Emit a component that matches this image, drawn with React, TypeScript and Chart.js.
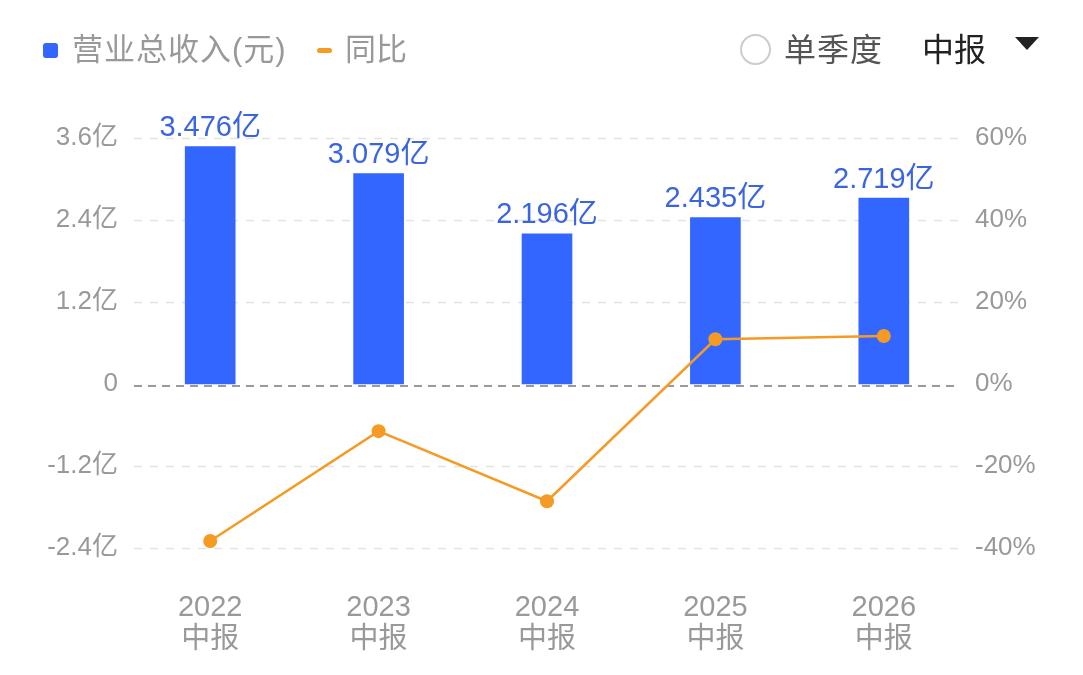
import React, { useEffect, useRef } from 'react';
import { Chart, registerables } from 'chart.js';

Chart.register(...registerables);

const categories = ['2022', '2023', '2024', '2025', '2026'];
const periodLabel = '中报';
const revenue = [3.476, 3.079, 2.196, 2.435, 2.719]; // 亿元
const revenueLabels = ['3.476亿', '3.079亿', '2.196亿', '2.435亿', '2.719亿'];
const yoy = [-38.3, -11.5, -28.6, 10.9, 11.7]; // %

const FONT = '"Liberation Sans", "Noto Sans CJK SC", sans-serif';
const BLUE = '#3366ff';
const ORANGE = '#f59a23';
const GRAY = '#999999';

const gridPlugin = {
  id: 'dashGrid',
  beforeDatasetsDraw(chart: any) {
    const { ctx, chartArea, scales } = chart;
    const y = scales.y;
    ctx.save();
    y.ticks.forEach((t: any) => {
      const py = Math.round(y.getPixelForValue(t.value)) + 0.5;
      const zero = Math.abs(t.value) < 1e-9;
      ctx.beginPath();
      ctx.setLineDash(zero ? [8, 6] : [8, 8]);
      ctx.strokeStyle = zero ? '#9a9a9a' : '#e2e2e2';
      ctx.lineWidth = zero ? 2 : 1.5;
      const yy = zero ? py + 1.5 : py;
      ctx.moveTo(chartArea.left + 8, yy);
      ctx.lineTo(chartArea.right - 8, yy);
      ctx.stroke();
    });
    ctx.restore();
  },
};

const barLabelPlugin = {
  id: 'barLabels',
  afterDatasetsDraw(chart: any) {
    const { ctx } = chart;
    const meta = chart.getDatasetMeta(1);
    ctx.save();
    ctx.font = `29px ${FONT}`;
    ctx.fillStyle = '#3a64e0';
    ctx.textAlign = 'center';
    ctx.textBaseline = 'bottom';
    meta.data.forEach((bar: any, i: number) => {
      ctx.fillText(revenueLabels[i], bar.x, bar.y - 4);
    });
    ctx.restore();
  },
};

const fmt = (v: number) => {
  const r = Math.round(v * 10) / 10;
  return r === 0 ? '0' : `${r.toFixed(1)}亿`;
};

const RevenueChart: React.FC = () => {
  const canvasRef = useRef<HTMLCanvasElement>(null);
  const chartRef = useRef<Chart | null>(null);

  useEffect(() => {
    if (!canvasRef.current) return;
    const ctx = canvasRef.current.getContext('2d');
    if (!ctx) return;
    if (chartRef.current) chartRef.current.destroy();

    chartRef.current = new Chart(ctx, {
      type: 'bar',
      data: {
        labels: categories.map(c => [c, periodLabel]),
        datasets: [
          {
            type: 'line',
            label: '同比',
            data: yoy,
            yAxisID: 'y1',
            borderColor: ORANGE,
            backgroundColor: ORANGE,
            borderWidth: 2.5,
            pointRadius: 7,
            pointHoverRadius: 7,
            pointBorderWidth: 0,
            tension: 0,
            order: 0,
          },
          {
            type: 'bar',
            label: '营业总收入(元)',
            data: revenue,
            yAxisID: 'y',
            backgroundColor: BLUE,
            barThickness: 50,
            order: 1,
          },
        ],
      },
      options: {
        responsive: true,
        maintainAspectRatio: false,
        animation: false,
        layout: { padding: { top: 138, bottom: 0, left: 0, right: 0 } },
        plugins: {
          legend: { display: false },
          tooltip: { enabled: false },
        },
        scales: {
          x: {
            grid: { display: false, drawTicks: false },
            border: { display: false },
            ticks: {
              color: GRAY,
              font: { family: FONT, size: 29, lineHeight: 1.1 },
              padding: 44,
              maxRotation: 0,
            },
            afterFit: (s: any) => { s.height = 127; },
          },
          y: {
            position: 'left',
            min: -2.4,
            max: 3.6,
            grid: { display: false, drawTicks: false },
            border: { display: false },
            ticks: {
              stepSize: 1.2,
              color: GRAY,
              font: { family: FONT, size: 26 },
              padding: 8,
              callback: (v: any) => fmt(Number(v)),
            },
            afterFit: (s: any) => { s.width = 126; },
          },
          y1: {
            position: 'right',
            min: -40,
            max: 60,
            grid: { display: false, drawTicks: false },
            border: { display: false },
            ticks: {
              stepSize: 20,
              color: GRAY,
              font: { family: FONT, size: 26 },
              padding: 7,
              callback: (v: any) => `${v}%`,
            },
            afterFit: (s: any) => { s.width = 115; },
          },
        },
      },
      plugins: [gridPlugin, barLabelPlugin],
    } as any);

    return () => {
      if (chartRef.current) {
        chartRef.current.destroy();
        chartRef.current = null;
      }
    };
  }, []);

  return <canvas ref={canvasRef}></canvas>;
};

const Legend: React.FC = () => (
  <div style={{ position: 'absolute', left: 0, top: 0, width: 1083, height: 100, fontFamily: FONT, fontSize: 31 }}>
    <div style={{ position: 'absolute', left: 43, top: 43, width: 15, height: 15, borderRadius: 3, background: BLUE }} />
    <div style={{ position: 'absolute', left: 72, top: 30, lineHeight: '40px', color: GRAY, letterSpacing: 1 }}>营业总收入(元)</div>
    <div style={{ position: 'absolute', left: 317, top: 48, width: 15, height: 5, borderRadius: 3, background: ORANGE }} />
    <div style={{ position: 'absolute', left: 345, top: 30, lineHeight: '40px', color: GRAY }}>同比</div>
    <div style={{ position: 'absolute', left: 740, top: 34, width: 31, height: 31, borderRadius: '50%', border: '2px solid #cccccc', boxSizing: 'border-box' }} />
    <div style={{ position: 'absolute', left: 784, top: 30, lineHeight: '40px', color: '#555555', fontSize: 32, letterSpacing: 1 }}>单季度</div>
    <div style={{ position: 'absolute', left: 922, top: 30, lineHeight: '40px', color: '#222222', fontSize: 32 }}>中报</div>
    <div style={{ position: 'absolute', left: 1015, top: 37, width: 0, height: 0, borderLeft: '12px solid transparent', borderRight: '12px solid transparent', borderTop: '13px solid #222222' }} />
  </div>
);

export default function App() {
  return (
    <div style={{ position: 'fixed', left: 0, top: 0, width: 1083, height: 675, background: '#ffffff' }}>
      <div style={{ position: 'absolute', left: 0, top: 0, width: 1083, height: 675 }}>
        <RevenueChart />
      </div>
      <Legend />
    </div>
  );
}
